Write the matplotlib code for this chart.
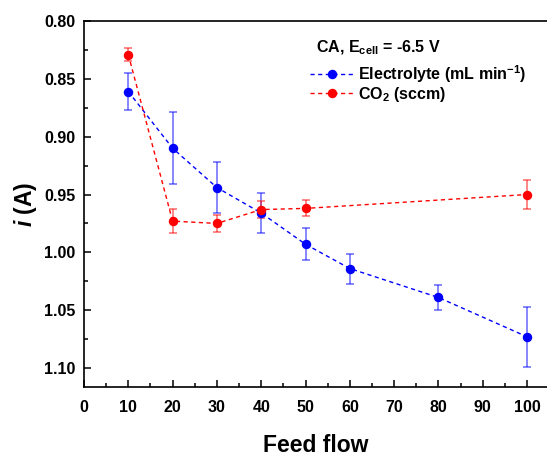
import matplotlib
matplotlib.use('Agg')
import matplotlib.pyplot as plt
from matplotlib.ticker import MultipleLocator, FormatStrFormatter

plt.rcParams['font.family'] = ['Liberation Sans', 'DejaVu Sans']
plt.rcParams['font.weight'] = 'bold'
plt.rcParams['axes.labelweight'] = 'bold'
plt.rcParams['mathtext.fontset'] = 'custom'
plt.rcParams['mathtext.rm'] = 'Liberation Sans:bold'
plt.rcParams['mathtext.bf'] = 'Liberation Sans:bold'
plt.rcParams['mathtext.it'] = 'Liberation Sans:italic:bold'

# electrolyte flow series (blue)
elec_x = [10, 20, 30, 40, 50, 60, 80, 100]
elec_i = [0.861, 0.910, 0.944, 0.966, 0.993, 1.014, 1.039, 1.073]
elec_err = [0.016, 0.031, 0.022, 0.017, 0.014, 0.013, 0.011, 0.026]

# CO2 flow series (red)
co2_x = [10, 20, 30, 40, 50, 100]
co2_i = [0.829, 0.973, 0.975, 0.963, 0.962, 0.950]
co2_err = [0.006, 0.0105, 0.007, 0.007, 0.007, 0.0127]

fig = plt.figure(figsize=(5.47, 4.59), dpi=100)
ax = fig.add_axes([84/547, 1 - 387/459, 1 - 84/547, (387 - 21)/459])

def plot_series(x, y, err, color, label):
    ax.errorbar(x, y, yerr=err, fmt='none', ecolor=color, alpha=0.55,
                elinewidth=1.2, capsize=3, capthick=1.2, zorder=2)
    ax.plot(x, y, color=color, ls='--', dashes=(3, 2.5), lw=1,
            marker='o', ms=5.8, mec=color, mfc=color, label=label, zorder=3)

plot_series(elec_x, elec_i, elec_err, '#0000ff', 'Electrolyte (mL min$^{-1}$)')
plot_series(co2_x, co2_i, co2_err, '#ff0000', 'CO$_2$ (sccm)')

ax.set_xlim(0, 104.5)
ax.set_ylim(1.1164, 0.80)
ax.xaxis.set_major_locator(MultipleLocator(10))
ax.xaxis.set_minor_locator(MultipleLocator(5))
ax.yaxis.set_major_locator(MultipleLocator(0.05))
ax.yaxis.set_minor_locator(MultipleLocator(0.025))
ax.yaxis.set_major_formatter(FormatStrFormatter('%.2f'))
ax.tick_params(which='both', direction='in', labelsize=11.5, width=1.1)
ax.tick_params(which='major', length=5, pad=6)
ax.tick_params(axis='x', which='major', pad=9)
ax.tick_params(which='minor', length=3)
ax.spines['right'].set_visible(False)
for s in ['left', 'bottom', 'top']:
    ax.spines[s].set_linewidth(1.2)

ax.set_xlabel('Feed flow', fontsize=16.5, labelpad=14)
ax.set_ylabel('$i$ (A)', fontsize=16.5, labelpad=4)

fig.text(316/547, 1 - 52/459, 'CA, E$_{\\rm cell}$ = -6.5 V', fontsize=11.5,
         fontweight='bold', ha='left', va='baseline')
leg = ax.legend(loc='upper left', bbox_to_anchor=(310/547, 1 - 63/459),
                bbox_transform=fig.transFigure, frameon=False, fontsize=11.5,
                handlelength=2.7, handletextpad=0.3, labelspacing=0.0,
                borderpad=0, borderaxespad=0)

fig.savefig('out.png', dpi=100)
